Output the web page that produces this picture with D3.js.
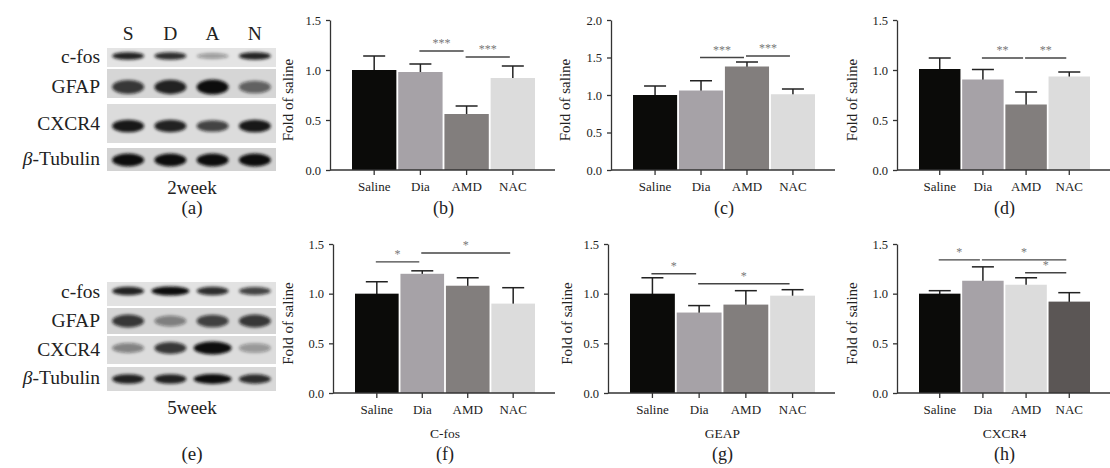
<!DOCTYPE html>
<html>
<head>
<meta charset="utf-8">
<script src="https://cdn.jsdelivr.net/npm/d3@7"></script>
<style>
  body { margin: 0; background: #fff; }
  svg text { font-family: "Liberation Serif", "DejaVu Serif", serif; fill: #222; }
</style>
</head>
<body>
<svg id="chart" width="1110" height="468" font-family="Liberation Serif, serif"></svg>
<script>
// groups and values
const groups = ["Saline", "Dia", "AMD", "NAC"]

const cfos2wMean = [1.00, 0.98, 0.56, 0.92]
const cfos2wSem  = [0.14, 0.08, 0.08, 0.12]
const gfap2wMean = [1.00, 1.06, 1.38, 1.01]
const gfap2wSem  = [0.12, 0.13, 0.06, 0.07]
const cxcr2wMean = [1.01, 0.905, 0.655, 0.935]
const cxcr2wSem  = [0.11, 0.10, 0.125, 0.045]

const cfos5wMean = [1.00, 1.20, 1.08, 0.90]
const cfos5wSem  = [0.12, 0.03, 0.08, 0.16]
const gfap5wMean = [1.00, 0.81, 0.89, 0.98]
const gfap5wSem  = [0.16, 0.07, 0.14, 0.06]
const cxcr5wMean = [1.00, 1.13, 1.09, 0.92]
const cxcr5wSem  = [0.03, 0.14, 0.07, 0.09]

// significance brackets: [from, to, level, stars]
const sigB = [["Dia", "AMD", 1.19, "***"], ["AMD", "NAC", 1.13, "***"]]
const sigC = [["Dia", "AMD", 1.50, "***"], ["AMD", "NAC", 1.52, "***"]]
const sigD = [["Dia", "AMD", 1.12, "**"], ["AMD", "NAC", 1.12, "**"]]
const sigF = [["Saline", "Dia", 1.32, "*"], ["Dia", "NAC", 1.41, "*"]]
const sigG = [["Saline", "Dia", 1.20, "*"], ["Dia", "NAC", 1.10, "*"]]
const sigH = [["Saline", "Dia", 1.34, "*"], ["Dia", "NAC", 1.34, "*"], ["AMD", "NAC", 1.21, "*"]]

const ticks15 = [0, 0.5, 1.0, 1.5]
const ticks20 = [0, 0.5, 1.0, 1.5, 2.0]

// western blot lanes and band strengths (0..1)
const lanes = ["S", "D", "A", "N"]
const blotRows = ["c-fos", "GFAP", "CXCR4", "Tubulin"]
const blot2w = [[0.9, 0.85, 0.35, 0.9], [0.8, 0.9, 1.0, 0.6], [0.95, 0.9, 0.75, 0.95], [1, 1, 1, 1]]
const blot5w = [[0.9, 1.0, 0.85, 0.75], [0.8, 0.45, 0.75, 0.8], [0.45, 0.8, 1.0, 0.35], [0.9, 0.9, 1.0, 0.85]]

const colsA = ["#0b0b09", "#a6a2a7", "#827e7d", "#dcdcdc"]
const colsH = ["#0b0b09", "#a6a2a7", "#dcdcdc", "#5b5655"]

const serif = "Liberation Serif, serif"
const svg = d3.select("#chart")

svg.append("defs").append("filter").attr("id", "blur")
    .attr("x", "-30%").attr("y", "-80%").attr("width", "160%").attr("height", "260%")
    .append("feGaussianBlur").attr("stdDeviation", 1.6)

const drawBar = (p) => {
    const g = svg.append("g")
    const x = d3.scaleBand().domain(groups).range([p.ax + 22, p.end - 20]).paddingInner(0.04)
    const y = d3.scaleLinear().domain([0, p.max]).range([p.bottom, p.top])

    const rows = groups.map((k, i) => ({ k: k, m: p.mean[i], s: p.sem[i], c: p.cols[i] }))

    // error bars first so bars cover the lower part
    rows.forEach(d => {
        const cx = x(d.k) + x.bandwidth() / 2
        g.append("line").attr("x1", cx).attr("x2", cx)
            .attr("y1", y(d.m) + 2).attr("y2", y(d.m + d.s))
            .attr("stroke", "#222").attr("stroke-width", 1.5)
        g.append("line").attr("x1", cx - 11).attr("x2", cx + 11)
            .attr("y1", y(d.m + d.s)).attr("y2", y(d.m + d.s))
            .attr("stroke", "#222").attr("stroke-width", 1.5)
    })

    g.selectAll("rect.bar").data(rows).enter().append("rect")
        .attr("x", d => x(d.k))
        .attr("y", d => y(d.m))
        .attr("width", x.bandwidth())
        .attr("height", d => y(0) - y(d.m))
        .attr("fill", d => d.c)

    // axes
    const ya = g.append("g").attr("transform", `translate(${p.ax},0)`)
        .call(d3.axisLeft(y).tickValues(p.ticks).tickFormat(d3.format(".1f")).tickSize(4).tickSizeOuter(0).tickPadding(5))
    ya.attr("font-family", serif)
    ya.select(".domain").attr("stroke", "#333").attr("stroke-width", 1.3)
    ya.selectAll(".tick line").attr("stroke", "#333").attr("stroke-width", 1.3)
    ya.selectAll("text").attr("font-size", 12.5).attr("fill", "#222")

    const xa = g.append("g").attr("transform", `translate(0,${p.bottom})`)
        .call(d3.axisBottom(x).tickSize(5).tickSizeOuter(0).tickPadding(7))
    xa.attr("font-family", serif)
    xa.select(".domain").remove()
    xa.selectAll(".tick line").attr("stroke", "#333").attr("stroke-width", 1.3)
    xa.selectAll("text").attr("font-size", 13).attr("fill", "#222")
    g.append("line").attr("x1", p.ax).attr("x2", p.end)
        .attr("y1", p.bottom).attr("y2", p.bottom)
        .attr("stroke", "#333").attr("stroke-width", 1.3)

    g.append("text")
        .attr("transform", `translate(${p.ylx + 5},${(p.top + p.bottom) / 2 + 5}) rotate(-90)`)
        .attr("text-anchor", "middle").attr("font-size", 15)
        .text("Fold of saline")

    p.sig.forEach(s => {
        const x1 = x(s[0]) + x.bandwidth() / 2 - 1
        const x2 = x(s[1]) + x.bandwidth() / 2 - 3
        g.append("line").attr("x1", x1).attr("x2", x2)
            .attr("y1", y(s[2])).attr("y2", y(s[2]))
            .attr("stroke", "#444").attr("stroke-width", 1.4)
        g.append("text").attr("x", (x1 + x2) / 2).attr("y", y(s[2]) - 4)
            .attr("text-anchor", "middle").attr("font-size", 12).style("fill", "#777")
            .text(s[3])
    })

    const cx = x.range()[0] + (x.range()[1] - x.range()[0]) / 2
    if (p.xlabel) {
        g.append("text").attr("x", cx)
            .attr("y", p.bottom + 45).attr("text-anchor", "middle").attr("font-size", 13.5)
            .text(p.xlabel)
    }
    g.append("text").attr("x", cx)
        .attr("y", p.label_y).attr("text-anchor", "middle").attr("font-size", 18)
        .text(p.label)
}

const drawBlot = (b) => {
    const g = svg.append("g")
    const x = d3.scaleBand().domain(lanes).range([107, 276])
    if (b.showLanes) {
        g.selectAll("text.lane").data(lanes).enter().append("text")
            .attr("x", d => x(d) + x.bandwidth() / 2).attr("y", 40)
            .attr("text-anchor", "middle").attr("font-size", 19.5).text(d => d)
    }
    blotRows.forEach((r, ri) => {
        const st = b.strips[ri]
        g.append("rect").attr("x", 107).attr("y", st[0]).attr("width", 169)
            .attr("height", st[1] - st[0]).attr("fill", b.bg[ri])
        b.data[ri].forEach((v, li) => {
            g.append("ellipse")
                .attr("cx", x(lanes[li]) + x.bandwidth() / 2)
                .attr("cy", b.bands[ri])
                .attr("rx", 16 + (v > 0.95 && b.wide ? 3 : 0))
                .attr("ry", b.bh[ri] / 2 * (0.6 + 0.4 * v))
                .attr("fill", "#111").attr("fill-opacity", v)
                .attr("filter", "url(#blur)")
        })
        const t = g.append("text").attr("x", 100).attr("y", b.labelY[ri])
            .attr("text-anchor", "end").attr("font-size", 19.5)
        if (r === "Tubulin") {
            t.append("tspan").attr("font-style", "italic").text("β")
            t.append("tspan").text("-Tubulin")
        } else {
            t.text(r)
        }
    })
    g.append("text").attr("x", 192).attr("y", b.weekY).attr("text-anchor", "middle")
        .attr("font-size", 19).text(b.week)
    g.append("text").attr("x", 192).attr("y", b.labY).attr("text-anchor", "middle")
        .attr("font-size", 19).text(b.lab)
}

drawBlot({
    data: blot2w, showLanes: true, week: "2week", lab: "(a)", weekY: 194, labY: 214,
    strips: [[48, 67], [69, 98], [104, 143], [148, 171]],
    bands: [56, 87, 126, 160], bh: [8, 15, 13, 13],
    bg: ["#e4e4e4", "#d6d6d6", "#dcdcdc", "#d2d2d2"],
    labelY: [63, 93, 130, 165]
})
drawBlot({
    data: blot5w, showLanes: false, week: "5week", lab: "(e)", weekY: 414, labY: 460, wide: true,
    strips: [[282, 306], [308, 334], [336, 364], [367, 391]],
    bands: [291, 321, 348, 379], bh: [9, 14, 13, 10],
    bg: ["#e2e2e2", "#d4d4d4", "#dcdcdc", "#d8d8d8"],
    labelY: [298, 327, 356, 384]
})

drawBar({ mean: cfos2wMean, sem: cfos2wSem, cols: colsA, ax: 330, end: 555, top: 20, bottom: 170, max: 1.5, ticks: ticks15, sig: sigB, ylx: 288, label: "(b)", label_y: 214 })
drawBar({ mean: gfap2wMean, sem: gfap2wSem, cols: colsA, ax: 611, end: 835, top: 20, bottom: 170, max: 2.0, ticks: ticks20, sig: sigC, ylx: 565, label: "(c)", label_y: 214 })
drawBar({ mean: cxcr2wMean, sem: cxcr2wSem, cols: colsA, ax: 897, end: 1110, top: 20, bottom: 170, max: 1.5, ticks: ticks15, sig: sigD, ylx: 852, label: "(d)", label_y: 214 })
drawBar({ mean: cfos5wMean, sem: cfos5wSem, cols: colsA, ax: 333, end: 555, top: 244, bottom: 393, max: 1.5, ticks: ticks15, sig: sigF, ylx: 288, xlabel: "C-fos", label: "(f)", label_y: 460 })
drawBar({ mean: gfap5wMean, sem: gfap5wSem, cols: colsA, ax: 608, end: 835, top: 244, bottom: 393, max: 1.5, ticks: ticks15, sig: sigG, ylx: 567, xlabel: "GEAP", label: "(g)", label_y: 460 })
drawBar({ mean: cxcr5wMean, sem: cxcr5wSem, cols: colsH, ax: 897, end: 1110, top: 244, bottom: 393, max: 1.5, ticks: ticks15, sig: sigH, ylx: 852, xlabel: "CXCR4", label: "(h)", label_y: 460 })
</script>
</body>
</html>
